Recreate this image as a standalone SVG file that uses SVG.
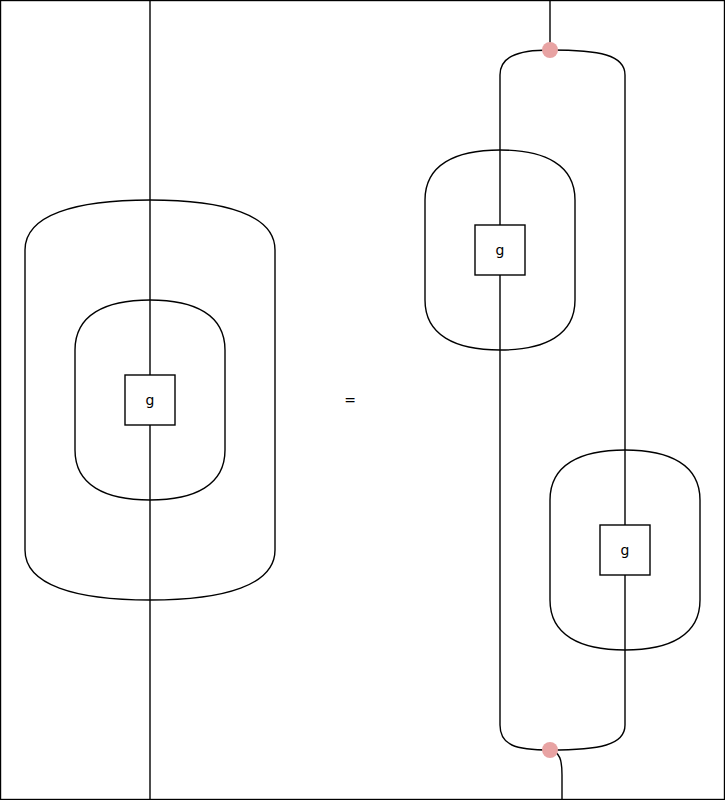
<svg xmlns="http://www.w3.org/2000/svg" width="725" height="800" viewBox="0 0 725 800">
<style>
.w{fill:none;stroke:#000;stroke-width:1.4}
.box{fill:#fff;stroke:#000;stroke-width:1.4}
.t{font-family:"DejaVu Sans",sans-serif;font-size:14px;fill:#000;text-anchor:middle;dominant-baseline:central}
.dot{fill:#e8a3a3}
</style>
<rect x="0.5" y="0.5" width="724" height="799" fill="#fff" stroke="#000" stroke-width="1.4"/>
<g id="connectors">
<path class="w" d="M150,0 L150,800"/>
<path class="w" d="M25,250 C25,215 75,200 150,200 C225,200 275,215 275,250 L275,550 C275,585 225,600 150,600 C75,600 25,585 25,550 Z"/>
<path class="w" d="M75,350 C75,315 105,300 150,300 C195,300 225,315 225,350 L225,450 C225,485 195,500 150,500 C105,500 75,485 75,450 Z"/>
<path class="w" d="M550,0 L550,50"/>
<path class="w" d="M500,700 L500,75 C500,58 515,50 550,50 C600,50 625,55 625,75 L625,725 C625,745 600,750 550,750 C515,750 500,745 500,725 Z"/>
<path class="w" d="M550,750 C560,752 562,760 562,775 L562,800"/>
<path class="w" d="M425,200 C425,165 455,150 500,150 C545,150 575,165 575,200 L575,300 C575,335 545,350 500,350 C455,350 425,335 425,300 Z"/>
<path class="w" d="M550,500 C550,465 580,450 625,450 C670,450 700,465 700,500 L700,600 C700,635 670,650 625,650 C580,650 550,635 550,600 Z"/>
</g>
<g id="g-left">
<rect class="box" x="125" y="375" width="50" height="50"/>
<text class="t" x="150" y="400">g</text>
</g>
<g id="g-right-top">
<rect class="box" x="475" y="225" width="50" height="50"/>
<text class="t" x="500" y="250">g</text>
</g>
<g id="g-right-bottom">
<rect class="box" x="600" y="525" width="50" height="50"/>
<text class="t" x="625" y="550">g</text>
</g>
<g id="eq">
<text class="t" x="350" y="400">=</text>
</g>
<g id="dot-top"><circle class="dot" cx="550" cy="50" r="8"/></g>
<g id="dot-bottom"><circle class="dot" cx="550" cy="750" r="8"/></g>
</svg>
